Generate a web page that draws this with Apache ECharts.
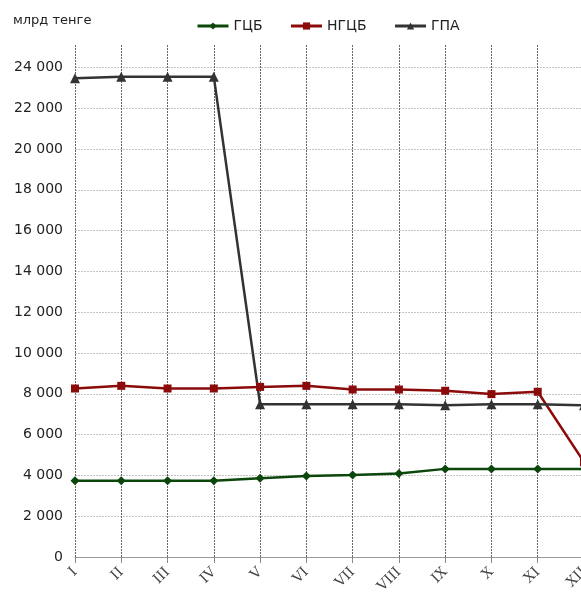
<!DOCTYPE html>
<html><head><meta charset="utf-8">
<script src="https://cdn.jsdelivr.net/npm/echarts@6/dist/echarts.min.js"></script>
<style>html,body{margin:0;padding:0;background:#fff}#c{width:581px;height:592px}</style>
</head><body><div id="c"></div>
<script>
var categories = ['I','II','III','IV','V','VI','VII','VIII','IX','X','XI','XII'];
var gcb  = [3740, 3740, 3740, 3740, 3860, 3975, 4025, 4090, 4320, 4320, 4320, 4320];
var ngcb = [8260, 8390, 8260, 8260, 8340, 8390, 8210, 8210, 8150, 7985, 8100, 4650];
var gpa  = [23470, 23540, 23540, 23540, 7490, 7490, 7490, 7490, 7445, 7490, 7490, 7440];
var yTicks = [0, 2000, 4000, 6000, 8000, 10000, 12000, 14000, 16000, 18000, 20000, 22000, 24000];
var seriesNames = ['ГЦБ', 'НГЦБ', 'ГПА'];

var chart = echarts.init(document.getElementById('c'));
function fmt(v){ var s = String(v); return s.replace(/\B(?=(\d{3})+(?!\d))/g, ' '); }
chart.setOption({
  animation: false,
  textStyle: {fontFamily: 'DejaVu Sans'},
  title: {text: 'млрд тенге', left: 8, top: 9, textStyle: {fontSize: 13, fontWeight: 'normal', color: '#222', fontFamily: 'DejaVu Sans'}},
  legend: {
    top: 14, left: 191, itemGap: 27, itemWidth: 31, itemHeight: 9,
    lineStyle: {width: 3},
    textStyle: {fontSize: 14, color: '#222', fontFamily: 'DejaVu Sans'},
    data: seriesNames
  },
  grid: {left: 75, right: -3, top: 45, bottom: 35, containLabel: false, outerBoundsMode: 'none'},
  xAxis: {
    type: 'category', data: categories, boundaryGap: false,
    axisLine: {lineStyle: {color: '#999', width: 1}},
    axisTick: {show: true, length: 6, lineStyle: {color: '#888'}},
    axisLabel: {rotate: 45, color: '#444', fontSize: 14, fontFamily: 'DejaVu Serif', margin: 13, interval: 0},
    splitLine: {show: true, lineStyle: {color: '#666', type: [2, 1], width: 1}}
  },
  yAxis: {
    type: 'value', min: 0, max: 25100, interval: 2000,
    axisLine: {show: false}, axisTick: {show: false},
    axisLabel: {showMaxLabel: false, color: '#222', fontSize: 14, margin: 12, formatter: function(v){ return yTicks.indexOf(v) >= 0 ? fmt(v) : ''; }},
    splitLine: {show: true, showMaxLine: false, lineStyle: {color: '#c4c4c4', type: [2, 1], width: 1}}
  },
  series: [
    {name: seriesNames[0], type: 'line', data: gcb, symbol: 'diamond', symbolSize: 9, color: '#0b460b', lineStyle: {width: 2.5}, itemStyle: {color: '#0b460b'}},
    {name: seriesNames[1], type: 'line', data: ngcb, symbol: 'rect', symbolSize: 8, color: '#8b0a0a', lineStyle: {width: 2.5}, itemStyle: {color: '#8b0a0a'}},
    {name: seriesNames[2], type: 'line', data: gpa, symbol: 'triangle', symbolSize: 10, color: '#333333', lineStyle: {width: 2.5}, itemStyle: {color: '#333333'}}
  ]
});
</script></body></html>
